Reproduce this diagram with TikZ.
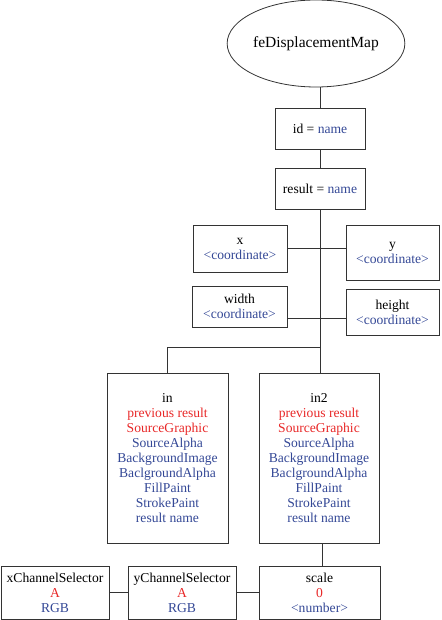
\documentclass[tikz,border=0pt]{standalone}
\usepackage{fontspec}
\setmainfont{Liberation Serif}
\usetikzlibrary{shapes.geometric}
\definecolor{vblue}{RGB}{52,72,150}
\definecolor{vred}{RGB}{232,40,40}
\begin{document}
\begin{tikzpicture}[x=1pt,y=-1pt,
  box/.style={draw=black!80,line width=0.8pt,rectangle,align=center,inner sep=1pt,
    font=\fontsize{13.6}{15}\selectfont},
  wire/.style={draw=black!80,line width=0.8pt},
  bl/.style={text=vblue},rd/.style={text=vred}]
\useasboundingbox (0,0) rectangle (441,620);
\node[draw=black!80,line width=0.8pt,ellipse,minimum width=172,minimum height=87,inner sep=0pt,
  font=\fontsize{15.5}{17}\selectfont] (fe) at (316,43.5) {feDisplacementMap};
\node[box,minimum width=90,minimum height=41] (id) at (320,128.5) {id = \textcolor{vblue}{name}};
\node[box,minimum width=90,minimum height=41] (res) at (320,188.5) {result = \textcolor{vblue}{name}};
\node[box,minimum width=94,minimum height=47] (x) at (240,248.5) {x\\\textcolor{vblue}{<coordinate>}};
\node[box,minimum width=93,minimum height=55] (y) at (392.5,252.5) {y\\\textcolor{vblue}{<coordinate>}};
\node[box,minimum width=95,minimum height=41] (w) at (239.5,306.5) {width\\\textcolor{vblue}{<coordinate>}};
\node[box,minimum width=93,minimum height=46] (h) at (392.5,312) {height\\\textcolor{vblue}{<coordinate>}};
\node[box,minimum width=121,minimum height=170] (in) at (167.5,458) {in\\\textcolor{vred}{previous result}\\\textcolor{vred}{SourceGraphic}\\\textcolor{vblue}{SourceAlpha}\\\textcolor{vblue}{BackgroundImage}\\\textcolor{vblue}{BaclgroundAlpha}\\\textcolor{vblue}{FillPaint}\\\textcolor{vblue}{StrokePaint}\\\textcolor{vblue}{result name}};
\node[box,minimum width=120,minimum height=170] (in2) at (319,458) {in2\\\textcolor{vred}{previous result}\\\textcolor{vred}{SourceGraphic}\\\textcolor{vblue}{SourceAlpha}\\\textcolor{vblue}{BackgroundImage}\\\textcolor{vblue}{BaclgroundAlpha}\\\textcolor{vblue}{FillPaint}\\\textcolor{vblue}{StrokePaint}\\\textcolor{vblue}{result name}};
\node[box,minimum width=108,minimum height=53] (xcs) at (55,592.5) {xChannelSelector\\\textcolor{vred}{A}\\\textcolor{vblue}{RGB}};
\node[box,minimum width=108,minimum height=53] (ycs) at (182,592.5) {yChannelSelector\\\textcolor{vred}{A}\\\textcolor{vblue}{RGB}};
\node[box,minimum width=121,minimum height=53] (sc) at (319.5,592.5) {scale\\\textcolor{vred}{0}\\\textcolor{vblue}{<number>}};
\coordinate (br) at (320,347);
\draw[wire] (fe.south -| id.north) -- (id.north);
\draw[wire] (id) -- (res);
\draw[wire] (res.south) -- (res.south |- in2.north);
\draw[wire] (x.east) -- (x.east -| y.west);
\draw[wire] (w.east |- 0,318) -- (h.west |- 0,318);
\draw[wire] (br) -| (in.north);
\draw[wire] (in2.south -| 322,0) -- (sc.north -| 322,0);
\draw[wire] (sc.west) -- (ycs.east);
\draw[wire] (ycs.west) -- (xcs.east);
\end{tikzpicture}
\end{document}
